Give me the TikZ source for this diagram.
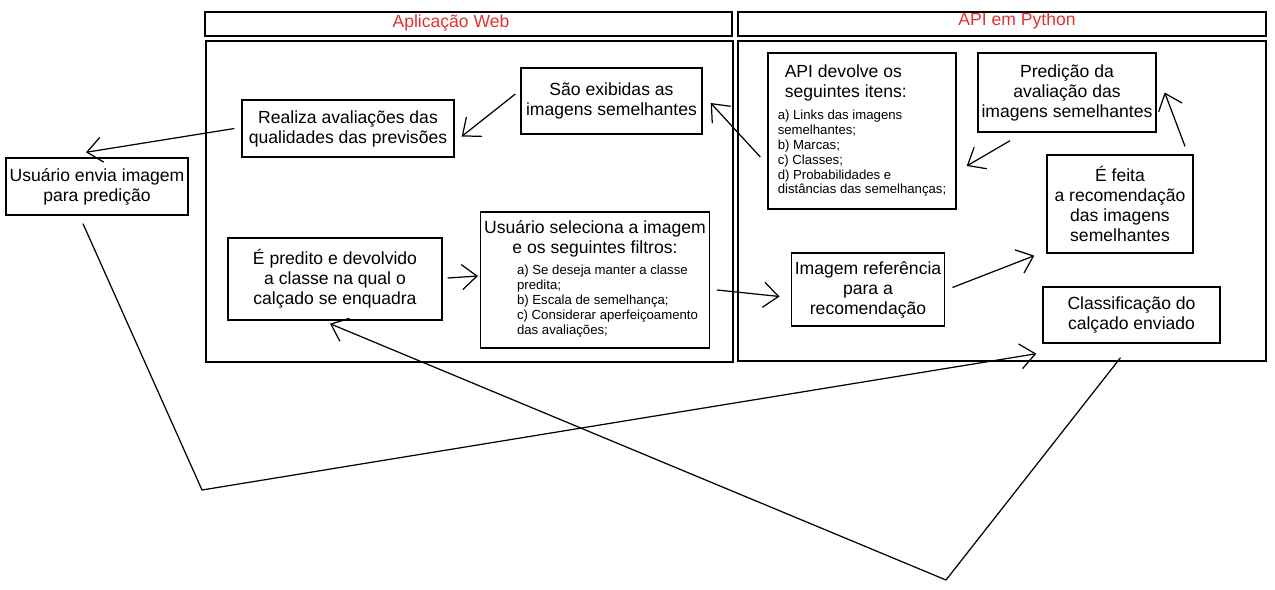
\documentclass[tikz,border=0pt]{standalone}
\usepackage{fontspec}
\setmainfont{Liberation Sans}
\usepackage{xcolor}
\usetikzlibrary{arrows.meta}
\definecolor{sketchred}{HTML}{E03131}
\newcommand{\listtxt}{\fontsize{7.5}{8.5}\selectfont}

\begin{document}
\begin{tikzpicture}[
  x=0.02cm, y=-0.02cm,
  every node/.style={font=\fontsize{10}{11.4}\selectfont},
  box/.style={draw, line width=0.8pt, align=center, inner sep=2pt},
  lane/.style={draw, line width=0.7pt},
  title/.style={text=sketchred},
  flow/.style={line width=0.7pt, -{Straight Barb[length=3mm, width=5mm]}}
]
\useasboundingbox (0,0) rectangle (1275,589);
% ---- lanes ----
\draw[lane] (205,12) rectangle (732,36);
\draw[lane] (206,41) rectangle (733,362);
\node[title] (webtitle) at (451,23) {Aplicação Web};
\draw[lane] (738,12) rectangle (1266,36);
\draw[lane] (738,41) rectangle (1266,361);
\node[title] (apititle) at (1017,21) {API em Python};
% ---- outside ----
\node[box, minimum width=3.52cm, minimum height=1.14cm] (envia) at (97,186.5)
  {Usuário envia imagem\\para predição};
% ---- web app ----
\node[box, minimum width=3.62cm, minimum height=1.32cm] (sao) at (611.5,101)
  {São exibidas as\\imagens semelhantes};
\node[box, minimum width=4.24cm, minimum height=1.14cm] (realiza) at (348,128.5)
  {Realiza avaliações das\\qualidades das previsões};
\node[box, minimum width=4.28cm, minimum height=1.64cm] (predito) at (335,279)
  {É predito e devolvido\\a classe na qual o\\calçado se enquadra};
\node[box, minimum width=4.56cm, minimum height=2.72cm] (seleciona) at (595,280)
  {Usuário seleciona a imagem\\e os seguintes filtros:\\[3pt]
   {\listtxt\begin{tabular}{@{\hspace{0.5cm}}l@{}}a) Se deseja manter a classe\\predita;\\b) Escala de semelhança;\\
    c) Considerar aperfeiçoamento\\das avaliações;\end{tabular}}};
% ---- python api ----
\node[box, align=left, minimum width=3.76cm, minimum height=3.12cm] (devolve) at (862,131)
  {\begin{tabular}{@{\hspace{0.14cm}}l@{}}API devolve os\\seguintes itens:\end{tabular}\\[2pt]
   {\listtxt\begin{tabular}{@{}l@{}}a) Links das imagens\\semelhantes;\\b) Marcas;\\c) Classes;\\d) Probabilidades e\\
    distâncias das semelhanças;\end{tabular}}};
\node[box, minimum width=3.44cm, minimum height=1.58cm] (predaval) at (1067,92.5)
  {Predição da\\avaliação das\\imagens semelhantes};
\node[box, minimum width=2.92cm, minimum height=1.96cm] (feita) at (1120,204)
  {É feita\\a recomendação\\das imagens\\semelhantes};
\node[box, minimum width=3.0cm, minimum height=1.46cm] (imgref) at (868,289.5)
  {Imagem referência\\para a\\recomendação};
\node[box, minimum width=3.54cm, minimum height=1.12cm] (classif) at (1131.5,315)
  {Classificação do\\calçado enviado};
% ---- connectors ----
\coordinate (lowleft) at (202,490);
\coordinate (lowmid) at (946,580);
\draw[flow] ([shift={(-5,-7)}]sao.west) -- ([shift={(7,8)}]realiza.east);
\draw[flow] ([shift={(-7,0)}]realiza.west) -- ([shift={(-11,-5)}]envia.north);
\draw[flow] ([shift={(-7,26)}]devolve.west) -- ([shift={(8,2)}]sao.east);
\draw[flow] ([shift={(-57,8)}]predaval.south) -- ([shift={(10,35)}]devolve.east);
\draw[flow] ([shift={(65,-8)}]feita.north) -- ([shift={(8,0)}]predaval.east);
\draw[flow] ([shift={(7,-2)}]imgref.east) -- ([shift={(-12,2)}]feita.south west);
\draw[flow] ([shift={(7,10)}]seleciona.east) -- ([shift={(-11,7)}]imgref.west);
\draw[flow] ([shift={(5,-1)}]predito.east) -- ([shift={(-2,-4)}]seleciona.west);
\draw[flow] ([shift={(-14,8)}]envia.south) -- (lowleft) -- ([shift={(-6,10)}]classif.south west);
\draw[flow] ([shift={(-11,14)}]classif.south) -- (lowmid) -- ([shift={(-5,3)}]predito.south);
\end{tikzpicture}
\end{document}
